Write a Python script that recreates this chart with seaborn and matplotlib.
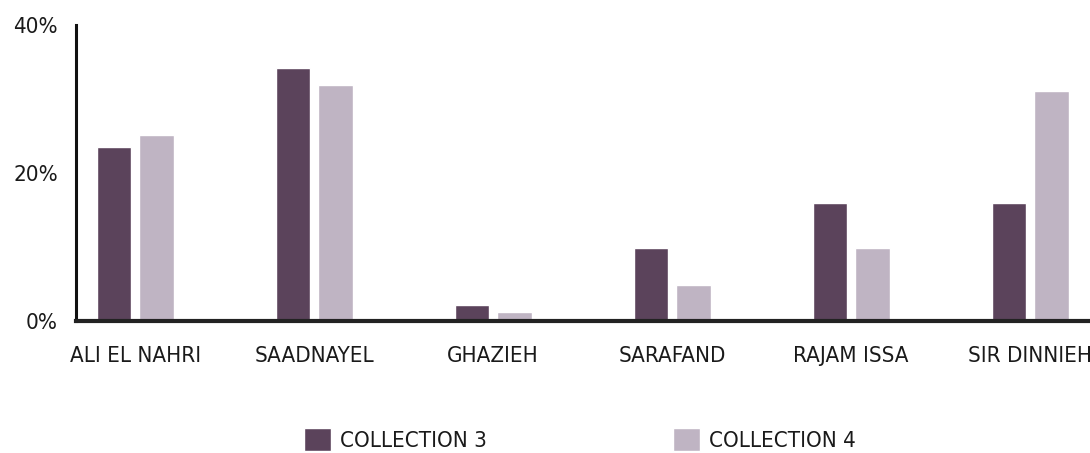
import matplotlib
matplotlib.use('Agg')
import matplotlib.pyplot as plt
import pandas as pd
import seaborn as sns

# Data (percent)
sites = ['ALI EL NAHRI', 'SAADNAYEL', 'GHAZIEH', 'SARAFAND', 'RAJAM ISSA', 'SIR DINNIEH']
collection_3 = [23.5, 34.2, 2.2, 9.9, 15.9, 15.9]
collection_4 = [25.1, 31.9, 1.2, 4.9, 9.9, 31.1]
series_names = ['COLLECTION 3', 'COLLECTION 4']
colors = ['#5f3f5f', '#c0b1c6']
y_ticks = [0, 20, 40]

df = pd.DataFrame({
    'site': sites * 2,
    'value': collection_3 + collection_4,
    'collection': [series_names[0]] * len(sites) + [series_names[1]] * len(sites),
})

sns.set_style('white')
plt.rcParams['font.family'] = ['DejaVu Sans']
plt.rcParams['font.stretch'] = 'condensed'

fig = plt.figure(figsize=(10.9, 4.53), dpi=100)
ax = fig.add_axes([76 / 1090, 132 / 453, 1 - 76 / 1090, 296 / 453])

sns.barplot(data=df, x='site', y='value', hue='collection', palette=colors,
            width=0.47, gap=0.17, ax=ax, legend=True)

ax.set_xlim(-0.33, 5.335)
ax.set_ylim(0, 40)
ax.set_yticks(y_ticks)
ax.set_yticklabels([f'{t}%' for t in y_ticks], fontsize=16, color='#1a1a1a')
ax.tick_params(axis='x', length=0, pad=18, labelsize=16, labelcolor='#1a1a1a')
ax.tick_params(axis='y', length=10, width=2.2, color='#111111', pad=3)
ax.set_xlabel('')
ax.set_ylabel('')

for side in ['top', 'right']:
    ax.spines[side].set_visible(False)
ax.spines['left'].set_linewidth(2.2)
ax.spines['left'].set_color('#111111')
ax.spines['bottom'].set_linewidth(3)
ax.spines['bottom'].set_color('#222222')
ax.spines['bottom'].set_zorder(5)

handles, labels = ax.get_legend_handles_labels()
ax.get_legend().remove()
fig.legend(handles, labels, loc='center', bbox_to_anchor=(0.532, 0.03), ncol=2,
           frameon=False, fontsize=16, handlelength=1.2, handleheight=1.2,
           handletextpad=0.4, columnspacing=8.4, labelcolor='#1a1a1a')

fig.savefig('out.png', dpi=100)
